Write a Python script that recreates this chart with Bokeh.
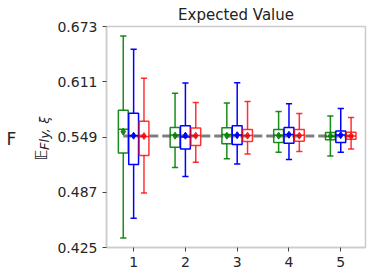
import math
from bokeh.plotting import figure
from bokeh.layouts import row
from bokeh.models import Range1d, FixedTicker, PrintfTickFormatter
from bokeh.core.properties import value
from bokeh.embed import file_html
from bokeh.resources import INLINE

groups = [1, 2, 3, 4, 5]
y_ticks = [0.425, 0.487, 0.549, 0.611, 0.673]
reference_value = 0.5500

green_whislo = [0.4358, 0.5149, 0.5245, 0.5319, 0.5278]
green_q1 = [0.5311, 0.5374, 0.5414, 0.5429, 0.5458]
green_med = [0.5576, 0.5513, 0.5518, 0.5510, 0.5495]
green_q3 = [0.5789, 0.5598, 0.5595, 0.5573, 0.5540]
green_whishi = [0.6622, 0.5981, 0.5871, 0.5775, 0.5727]
green_mean = [0.5550, 0.5505, 0.5505, 0.5505, 0.5500]

blue_whislo = [0.4579, 0.5046, 0.5186, 0.5237, 0.5319]
blue_q1 = [0.5182, 0.5355, 0.5407, 0.5421, 0.5429]
blue_med = [0.5505, 0.5490, 0.5513, 0.5518, 0.5513]
blue_q3 = [0.5756, 0.5617, 0.5617, 0.5598, 0.5557]
blue_whishi = [0.6474, 0.6095, 0.6099, 0.5863, 0.5811]
blue_mean = [0.5505, 0.5505, 0.5510, 0.5515, 0.5510]

red_whislo = [0.4862, 0.5208, 0.5300, 0.5326, 0.5355]
red_q1 = [0.5281, 0.5396, 0.5440, 0.5443, 0.5466]
red_med = [0.5495, 0.5507, 0.5507, 0.5510, 0.5502]
red_q3 = [0.5668, 0.5591, 0.5573, 0.5573, 0.5543]
red_whishi = [0.6150, 0.5878, 0.5889, 0.5753, 0.5709]
red_mean = [0.5500, 0.5505, 0.5505, 0.5505, 0.5500]

TOTAL_H = 274
LEFT_W = 54
MAIN_W = 316

# ---- left strip with the row label and y-axis label ----
lf = figure(width=LEFT_W, height=TOTAL_H, output_backend="svg", toolbar_location=None,
            x_range=Range1d(0, LEFT_W), y_range=Range1d(0, TOTAL_H),
            min_border=0, x_axis_location=None, y_axis_location=None)
lf.outline_line_color = None
lf.xgrid.visible = False
lf.ygrid.visible = False
lf.border_fill_color = "white"
lf.background_fill_color = "white"
lf.text(x=[11], y=[TOTAL_H - 139], text=["F"], text_align="center", text_baseline="middle",
        text_font=value("DejaVu Sans"), text_font_size="17px", text_color="#262626")
lf.text(x=[41.5], y=[TOTAL_H - 166], text=["𝔼"], angle=math.pi / 2,
        text_align="left", text_baseline="alphabetic",
        text_font=value("DejaVu Sans"), text_font_size="15px", text_color="#262626")
lf.text(x=[44], y=[TOTAL_H - 153], text=["Fly, ξ"], angle=math.pi / 2,
        text_align="left", text_baseline="alphabetic", text_font_style="italic",
        text_font=value("DejaVu Sans"), text_font_size="13px", text_color="#262626")

# ---- main plot ----
p = figure(width=MAIN_W, height=TOTAL_H, output_backend="svg", toolbar_location=None,
           min_border_left=104 - LEFT_W, min_border_top=22,
           min_border_right=MAIN_W - (104 - LEFT_W) - 261, min_border_bottom=TOTAL_H - 22 - 225,
           x_range=Range1d(0.476, 5.478), y_range=Range1d(0.425, 0.673))
p.background_fill_color = "white"
p.border_fill_color = "white"
p.outline_line_color = "#cccccc"
p.outline_line_width = 1.5
p.xgrid.visible = False
p.ygrid.visible = False

p.title.text = "Expected Value"
p.title.align = "center"
p.title.text_font = "DejaVu Sans"
p.title.text_font_size = "15px"
p.title.text_font_style = "normal"
p.title.text_color = "#222222"
p.title.standoff = 6

for ax in (p.xaxis, p.yaxis):
    ax.axis_line_color = "#cccccc"
    ax.axis_line_width = 1.5
    ax.major_tick_line_color = "#444444"
    ax.major_tick_out = 4
    ax.major_tick_in = 0
    ax.minor_tick_line_color = None
    ax.major_label_text_font = "DejaVu Sans"
    ax.major_label_text_font_size = "14px"
    ax.major_label_text_color = "#262626"
p.xaxis.ticker = FixedTicker(ticks=groups)
p.xaxis.major_label_standoff = 5
p.yaxis.ticker = FixedTicker(ticks=y_ticks)
p.yaxis.formatter = PrintfTickFormatter(format="%.3f")
p.yaxis.major_label_standoff = 5

# reference line
p.line([0.8, 5.3], [reference_value, reference_value], line_color="#707070",
       line_width=3, line_dash="9 4", line_alpha=0.9)

series = [
    (-0.2, "#008000", 0.9, green_whislo, green_q1, green_med, green_q3, green_whishi, green_mean),
    (0.0, "#0000ff", 1.0, blue_whislo, blue_q1, blue_med, blue_q3, blue_whishi, blue_mean),
    (0.2, "#ff0000", 0.8, red_whislo, red_q1, red_med, red_q3, red_whishi, red_mean),
]
bw = 0.19
cw = 0.12
for off, col, a, lo, q1, med, q3, hi, mean in series:
    xs = [g + off for g in groups]
    p.segment(xs, lo, xs, q1, line_color=col, line_alpha=a, line_width=1.5)
    p.segment(xs, q3, xs, hi, line_color=col, line_alpha=a, line_width=1.5)
    p.segment([x - cw / 2 for x in xs], lo, [x + cw / 2 for x in xs], lo,
              line_color=col, line_alpha=a, line_width=1.5)
    p.segment([x - cw / 2 for x in xs], hi, [x + cw / 2 for x in xs], hi,
              line_color=col, line_alpha=a, line_width=1.5)
    p.quad(left=[x - bw / 2 for x in xs], right=[x + bw / 2 for x in xs],
           bottom=q1, top=q3, fill_color=None, line_color=col, line_alpha=a, line_width=1.5)
    p.segment([x - bw / 2 for x in xs], med, [x + bw / 2 for x in xs], med,
              line_color=col, line_alpha=a, line_width=1.5)
    p.scatter(xs, mean, marker="diamond", size=7, fill_color=col, line_color=col,
              fill_alpha=a, line_alpha=a)

layout = row(lf, p, spacing=0)
open("out.html", "w").write(file_html(layout, INLINE))
